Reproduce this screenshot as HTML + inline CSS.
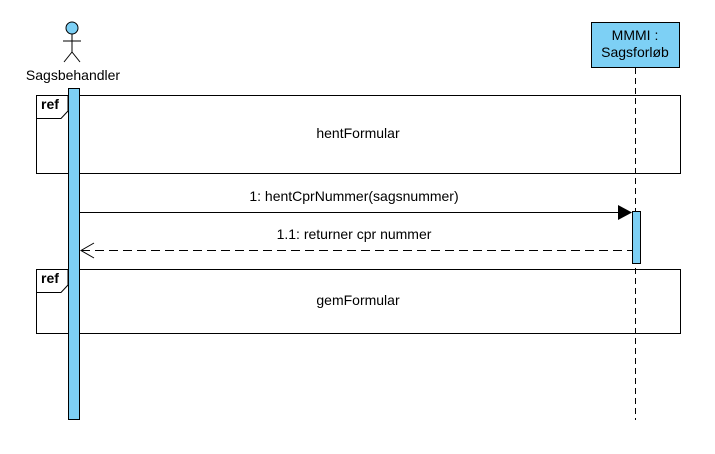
<!DOCTYPE html>
<html><head><style>body{margin:0;background:#fff}</style></head><body>
<svg width="715" height="449" xmlns="http://www.w3.org/2000/svg" font-family="Liberation Sans, Arial, sans-serif" font-size="14">
<rect width="715" height="449" fill="#fff"/>
<circle cx="72" cy="28" r="6" fill="#7dd0f5" stroke="#000"/>
<line x1="72" y1="34" x2="72" y2="52" stroke="#000"/>
<line x1="63" y1="41" x2="81" y2="41" stroke="#000"/>
<line x1="72" y1="52" x2="64" y2="62" stroke="#000"/>
<line x1="72" y1="52" x2="80" y2="62" stroke="#000"/>
<text x="73" y="80" text-anchor="middle" font-size="14">Sagsbehandler</text>
<rect x="591.5" y="22.5" width="88" height="45" fill="#7dd0f5" stroke="#000"/>
<text x="635" y="40" text-anchor="middle">MMMI :</text>
<text x="635" y="57" text-anchor="middle">Sagsforløb</text>
<line x1="635.5" y1="68" x2="635.5" y2="420" stroke="#000" stroke-dasharray="6,4"/>
<rect x="36.5" y="95.5" width="644" height="78" fill="none" stroke="#000"/>
<path d="M36.5 118.5 H61 L68 111 V95.5" fill="none" stroke="#000"/>
<text x="41" y="109" font-weight="bold">ref</text>
<text x="358" y="138" text-anchor="middle">hentFormular</text>
<rect x="36.5" y="269.5" width="644" height="64" fill="none" stroke="#000"/>
<path d="M36.5 292.5 H61 L68 285 V269.5" fill="none" stroke="#000"/>
<text x="41" y="283" font-weight="bold">ref</text>
<text x="358" y="305" text-anchor="middle">gemFormular</text>
<rect x="68.5" y="88.5" width="11" height="331" fill="#7dd0f5" stroke="#000"/>
<rect x="632.5" y="211.5" width="8" height="52" fill="#7dd0f5" stroke="#000"/>
<line x1="80" y1="212.5" x2="620" y2="212.5" stroke="#000"/>
<polygon points="618,205 632,212.5 618,220" fill="#000"/>
<text x="354" y="201" text-anchor="middle">1: hentCprNummer(sagsnummer)</text>
<line x1="81" y1="250.5" x2="632" y2="250.5" stroke="#000" stroke-dasharray="9,5"/>
<polyline points="94,243 81,250.5 94,258" fill="none" stroke="#000"/>
<text x="354" y="239" text-anchor="middle">1.1: returner cpr nummer</text>
</svg>
</body></html>
